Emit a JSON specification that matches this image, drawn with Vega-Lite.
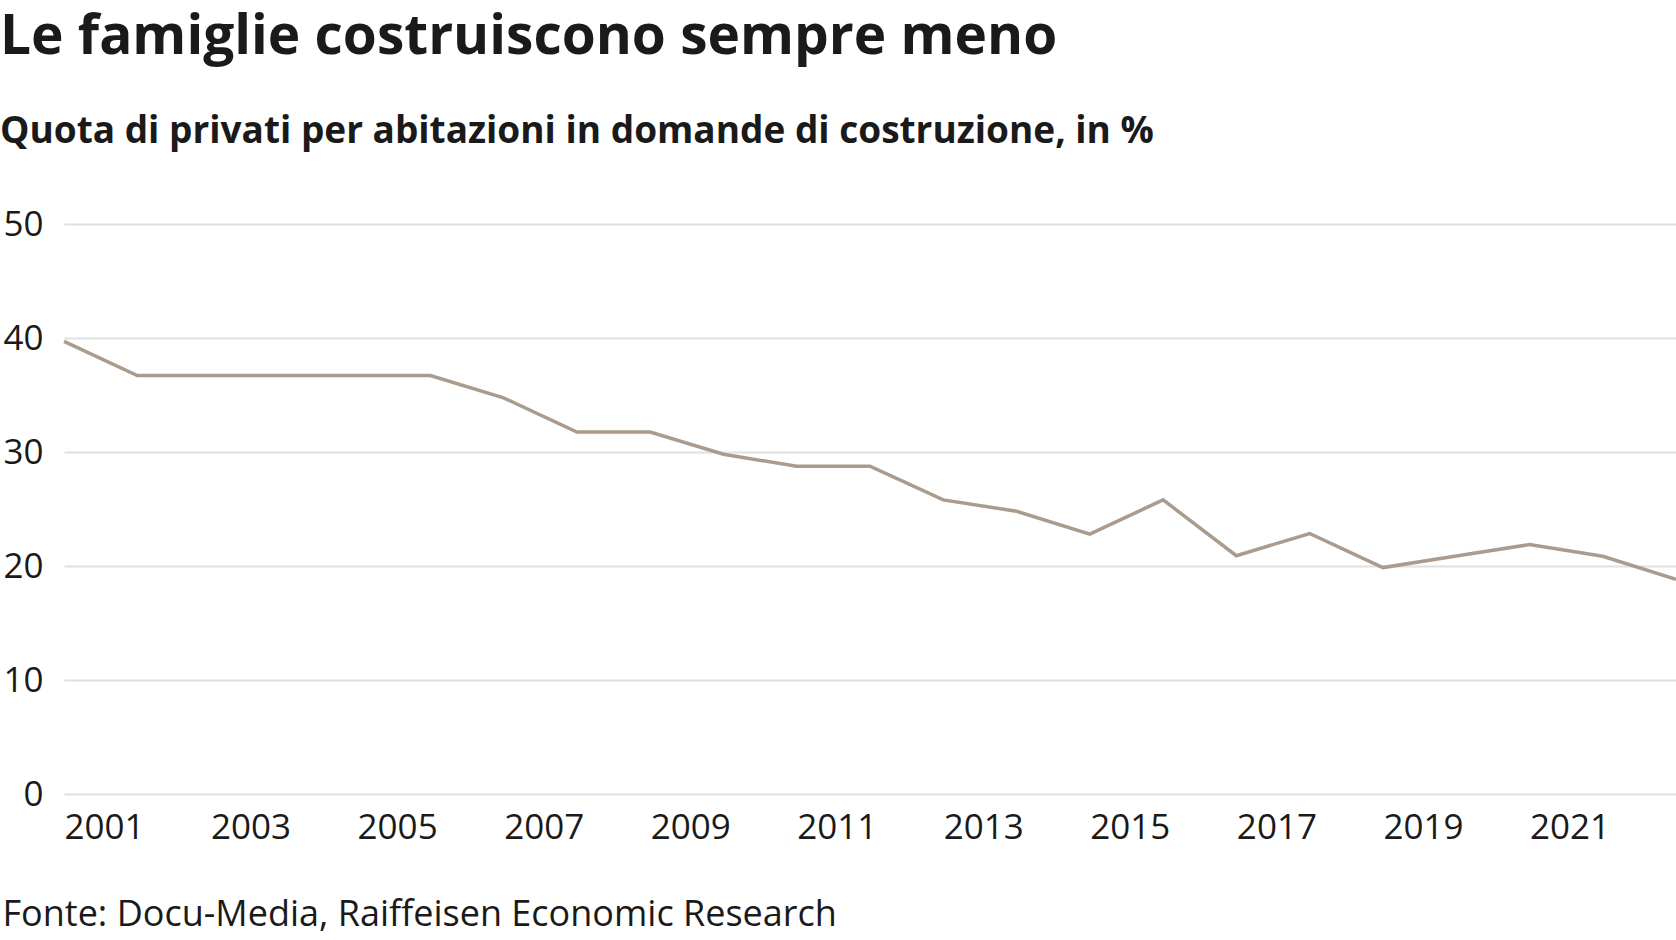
{
  "$schema": "https://vega.github.io/schema/vega-lite/v6.json",
  "autosize": {"type": "none"},
  "padding": {"left": 64, "top": 224, "right": 0, "bottom": 146},
  "width": 1612,
  "height": 570,
  "background": "white",
  "title": {
    "text": "Le famiglie costruiscono sempre meno",
    "subtitle": "Quota di privati per abitazioni in domande di costruzione, in %",
    "anchor": "start",
    "frame": "group",
    "dx": -64,
    "offset": 56,
    "font": "Open Sans",
    "fontSize": 55,
    "fontWeight": "bold",
    "color": "#1a1a1a",
    "subtitleFont": "Open Sans",
    "subtitleFontSize": 37,
    "subtitleFontWeight": "bold",
    "subtitleColor": "#1a1a1a",
    "subtitlePadding": 48
  },
  "data": {
    "values": [
      {"year": 2001, "share": 39.7},
      {"year": 2002, "share": 36.7},
      {"year": 2003, "share": 36.7},
      {"year": 2004, "share": 36.7},
      {"year": 2005, "share": 36.7},
      {"year": 2006, "share": 36.7},
      {"year": 2007, "share": 34.75},
      {"year": 2008, "share": 31.75},
      {"year": 2009, "share": 31.75},
      {"year": 2010, "share": 29.8},
      {"year": 2011, "share": 28.75},
      {"year": 2012, "share": 28.75},
      {"year": 2013, "share": 25.8},
      {"year": 2014, "share": 24.8},
      {"year": 2015, "share": 22.8},
      {"year": 2016, "share": 25.8},
      {"year": 2017, "share": 20.9},
      {"year": 2018, "share": 22.85},
      {"year": 2019, "share": 19.86},
      {"year": 2020, "share": 20.87},
      {"year": 2021, "share": 21.88},
      {"year": 2022, "share": 20.85},
      {"year": 2023, "share": 18.83}
    ]
  },
  "mark": {"type": "line", "color": "#aa9b8c", "strokeWidth": 3.5, "interpolate": "linear"},
  "encoding": {
    "x": {
      "field": "year",
      "type": "quantitative",
      "scale": {"domain": [2001, 2023], "nice": false, "zero": false},
      "axis": {
        "values": [2001, 2003, 2005, 2007, 2009, 2011, 2013, 2015, 2017, 2019, 2021],
        "format": "d",
        "grid": false,
        "ticks": false,
        "domain": false,
        "labelAlign": "left",
        "labelFlush": false,
        "labelBaseline": "top",
        "labelPadding": 16,
        "labelFont": "Open Sans",
        "labelFontSize": 35,
        "labelColor": "#1a1a1a",
        "title": "Fonte: Docu-Media, Raiffeisen Economic Research",
        "titleX": -62,
        "titleY": 131,
        "titleAlign": "left",
        "titleBaseline": "alphabetic",
        "titleFont": "Open Sans",
        "titleFontSize": 36,
        "titleFontWeight": "normal",
        "titleColor": "#1a1a1a"
      }
    },
    "y": {
      "field": "share",
      "type": "quantitative",
      "scale": {"domain": [0, 50], "nice": false},
      "axis": {
        "values": [0, 10, 20, 30, 40, 50],
        "title": null,
        "grid": true,
        "gridColor": "#e0e0e0",
        "gridWidth": 2,
        "ticks": false,
        "domain": false,
        "labelPadding": 21,
        "labelBaseline": "middle",
        "labelFont": "Open Sans",
        "labelFontSize": 35,
        "labelColor": "#1a1a1a"
      }
    }
  },
  "config": {"view": {"stroke": null}}
}
